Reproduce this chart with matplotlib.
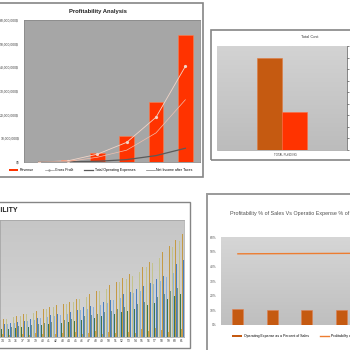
import numpy as np
import matplotlib
matplotlib.use('Agg')
import matplotlib.pyplot as plt
from matplotlib.patches import Rectangle, Patch
from matplotlib.lines import Line2D
from matplotlib.colors import LinearSegmentedColormap

plt.rcParams['font.family'] = ['Liberation Sans', 'DejaVu Sans']

# Profitability Analysis (top left)
years = ['1', '2', '3', '4', '5', '6']
revenue = [0, 0.8e6, 3.8e6, 10.9e6, 25.3e6, 53.8e6]
gross_profit = [0, 0.5e6, 3.3e6, 8.3e6, 18.9e6, 40.4e6]
total_opex = [0, 0.1e6, 0.3e6, 1.0e6, 2.7e6, 5.8e6]
net_income = [0, 0.2e6, 2.0e6, 5.0e6, 12.3e6, 26.3e6]

# Total Cost (top right)
cost_category = ['TOTAL FUNDING']
cost_a = [80000]
cost_b = [33000]

# Profitability per month (bottom left)
months = [str(m) for m in range(34, 62)]
s_khaki = [16.5, 18.0, 19.3, 20.7, 22.3, 23.9, 25.8, 27.6, 29.5, 30.7, 32.6, 34.7, 37.9, 39.7,
           42.1, 45.3, 48.1, 51.2, 54.6, 57.9, 61.1, 65.1, 69.8, 74.1, 79.1, 84.4, 89.9, 95.5]
s_lightblue = [11.7, 12.7, 13.7, 14.7, 15.8, 17.0, 18.3, 19.6, 20.9, 21.8, 23.1, 24.6, 26.9, 28.2,
               29.9, 32.1, 34.1, 36.3, 38.7, 41.1, 43.4, 46.2, 49.5, 52.6, 56.1, 59.9, 63.8, 67.8]
s_darkgreen = [7.4, 8.1, 8.7, 9.4, 10.1, 10.8, 11.6, 12.5, 13.3, 13.9, 14.7, 15.7, 17.1, 17.9,
               19.0, 20.5, 21.7, 23.1, 24.7, 26.2, 27.6, 29.4, 31.5, 33.5, 35.7, 38.1, 40.6, 43.1]
s_tan = [3, 2, 4, 3, 2, 4, 3, 5, 3, 4, 2, 5, 3, 4, 6, 3, 5, 4, 7, 5, 4, 8, 6, 9, 7, 5, 10, 8]
s_gold = [17.7, 19.3, 20.7, 22.3, 24.0, 25.7, 27.7, 29.7, 31.7, 33.0, 35.0, 37.3, 40.7, 42.7,
          45.3, 48.7, 51.7, 55.0, 58.7, 62.3, 65.7, 70.0, 75.0, 79.7, 85.0, 90.7, 96.7, 102.7]
s_blue = [12.7, 13.9, 14.9, 16.1, 17.3, 18.5, 19.9, 21.4, 22.8, 23.8, 25.2, 26.9, 29.3, 30.7,
          32.6, 35.1, 37.2, 39.6, 42.3, 44.9, 47.3, 50.4, 54.0, 57.4, 61.2, 65.3, 72.3, 76.7]
s_grey = [8.9, 9.7, 10.4, 11.2, 12.0, 12.9, 13.9, 14.9, 15.9, 16.5, 17.5, 18.7, 20.4, 21.4,
          22.7, 24.4, 25.9, 27.5, 29.4, 31.2, 32.9, 35.0, 37.5, 39.9, 42.5, 45.4, 48.4, 51.4]

# Profitability % vs Opex % (bottom right)
periods = ['1', '2', '3', '4', '5']
opex_pct = [10.9, 10.3, 10.3, 10.3, 10.3]
profit_pct = [48.7, 48.8, 48.9, 49.0, 49.1]

W = H = 350.0


def px(x0, y0, x1, y1):
    return [x0 / W, 1 - y1 / H, (x1 - x0) / W, (y1 - y0) / H]


def gradient(ax, top, bottom):
    cmap = LinearSegmentedColormap.from_list('g', [top, bottom])
    ax.imshow(np.linspace(0, 1, 100).reshape(-1, 1), cmap=cmap, extent=[0, 1, 0, 1],
              transform=ax.transAxes, aspect='auto', zorder=0)


def frame(fig, x0, y0, x1, y1, lw=1.0, color='#858585'):
    r = Rectangle((x0 / W, 1 - y1 / H), (x1 - x0) / W, (y1 - y0) / H, fill=False,
                  edgecolor=color, lw=lw, transform=fig.transFigure, clip_on=False)
    fig.add_artist(r)


fig = plt.figure(figsize=(3.5, 3.5), dpi=100)
fig.patch.set_facecolor('white')

frame(fig, -5, 3, 203, 177, lw=1.2)
frame(fig, 211, 30, 360, 160, lw=1.2)
frame(fig, -5, 201.5, 190, 347.5, lw=1.0)
frame(fig, 207, 194, 360, 360, lw=1.4, color='#9a9a9a')

# --- panel 1
ax1 = fig.add_axes(px(24, 20, 200, 162))
ax1.set_facecolor('#a6a6a6')
x = np.arange(len(years))
ax1.bar(x, revenue, width=0.5, color='#ff3300', edgecolor='#ff7f50', lw=0.4, zorder=2)
ax1.plot(x, gross_profit, color='#f2d5c8', lw=0.6, marker='o', ms=1.3, zorder=3)
ax1.plot(x, total_opex, color='#5a5a5a', lw=0.9, zorder=3)
ax1.plot(x, net_income, color='#f0c0b0', lw=0.5, zorder=3)
ax1.set_xlim(-0.5, 5.5)
ax1.set_ylim(0, 60e6)
ax1.set_yticks(np.arange(0, 60.1e6, 10e6))
ax1.set_yticklabels(['0$'] + ['{:,.0f}$'.format(v) for v in np.arange(10e6, 60.1e6, 10e6)])
ax1.tick_params(axis='y', length=0, pad=3.5, labelsize=2.4, labelcolor='#404040')
ax1.set_xticks([])
for s in ax1.spines.values():
    s.set_color('#8a8a8a')
    s.set_linewidth(0.6)
fig.text(98 / W, 1 - 11 / H, 'Profitability Analysis', ha='center', va='center',
         fontsize=4.2, fontweight='bold', color='#222222')
h1 = [Patch(facecolor='#ff3300', label='Revenue'),
      Line2D([], [], color='#9a9a9a', lw=0.5, marker='+', ms=1.5, label='Gross Profit'),
      Line2D([], [], color='#5a5a5a', lw=0.9, label='Total Operating Expenses'),
      Line2D([], [], color='#7a7a7a', lw=0.5, label='Net Income after Taxes')]
fig.legend(handles=h1, loc='center', bbox_to_anchor=(101 / W, 1 - 170 / H), ncol=4,
           fontsize=2.5, frameon=False, handlelength=2.6, columnspacing=3.0,
           handletextpad=0.5)

# --- panel 2 (its tick labels sit past the right edge in the screenshot)
ax2 = fig.add_axes(px(217, 46, 347, 150))
gradient(ax2, '#d3d3d3', '#bcbcbc')
ax2.bar([-0.098], cost_a, width=0.196, color='#c55a11', edgecolor='#e07a40', lw=0.4, zorder=2)
ax2.bar([0.098], cost_b, width=0.196, color='#ff3300', edgecolor='#ff6a40', lw=0.4, zorder=2)
ax2.set_xlim(-0.5, 0.5)
ax2.set_ylim(0, 90000)
ax2.yaxis.tick_right()
ax2.set_yticks(np.arange(0, 90001, 10000))
ax2.tick_params(axis='y', length=1.5, width=0.5, color='#555555', labelright=False,
                labelleft=False)
ax2.set_xticks([])
for k, s in ax2.spines.items():
    s.set_visible(k in ('right', 'bottom'))
    s.set_color('#9a9a9a')
    s.set_linewidth(0.5)
ax2.spines['right'].set_color('#555555')
fig.text(310 / W, 1 - 37 / H, 'Total Cost', ha='center', va='center', fontsize=2.9,
         color='#404040')
fig.text(285 / W, 1 - 155 / H, cost_category[0], ha='center', va='center', fontsize=2.1,
         color='#404040')

# --- panel 3
ax3 = fig.add_axes(px(0, 220, 184, 336.7))
gradient(ax3, '#c6c6c6', '#d6d6d6')
xm = np.arange(34, 62)
series = [(s_khaki, '#c4c38c'), (s_lightblue, '#8fb1d9'), (s_darkgreen, '#3f7650'),
          (s_tan, '#c9a152'), (s_gold, '#c49a45'), (s_blue, '#4a7ebf'), (s_grey, '#6f8f86')]
bw = 0.12
for i, (vals, col) in enumerate(series):
    ax3.bar(xm + (i - 3) * bw, vals, width=bw, color=col, lw=0, zorder=2)
ax3.set_xlim(33.6, 61.35)
ax3.set_ylim(0, 116.7)
ax3.set_xticks(xm)
ax3.set_xticklabels(months)
ax3.tick_params(axis='x', length=0, pad=1.5, labelsize=2.4, labelcolor='#404040')
ax3.set_yticks([])
for s in ax3.spines.values():
    s.set_color('#a0a0a0')
    s.set_linewidth(0.5)
fig.text(18.5 / W, 1 - 210 / H, 'PROFITABILITY', ha='right', va='center', fontsize=5.0,
         fontweight='bold', color='#222222')

# --- panel 4
ax4 = fig.add_axes(px(220.7, 237.3, 220.7 + 5 * 34.4, 325))
gradient(ax4, '#d6d6d6', '#bfbfbf')
xp = np.arange(len(periods))
ax4.bar(xp, opex_pct, width=0.32, color='#c55a11', edgecolor='#e08050', lw=0.4, zorder=2)
ax4.plot(xp, profit_pct, color='#ed7d31', lw=1.0, zorder=3)
ax4.set_xlim(-0.5, 4.5)
ax4.set_ylim(0, 60)
ax4.set_yticks(np.arange(0, 61, 10))
ax4.set_yticklabels(['{}%'.format(v) for v in range(0, 61, 10)])
ax4.tick_params(axis='y', length=0, pad=3, labelsize=2.4, labelcolor='#595959')
ax4.set_xticks([])
for s in ax4.spines.values():
    s.set_visible(False)
fig.text(230 / W, 1 - 214 / H, 'Profitability % of Sales Vs Operatio Expense % of Sales',
         ha='left', va='center', fontsize=3.9, color='#505050')
h4 = [Patch(facecolor='#c55a11', label='Operating Expense as a Percent of Sales'),
      Line2D([], [], color='#ed7d31', lw=1.0, label='Profitability as a Percent of Sales')]
fig.legend(handles=h4, loc='center left', bbox_to_anchor=(229 / W, 1 - 336 / H), ncol=2,
           fontsize=2.5, frameon=False, handlelength=2.8, columnspacing=3.2,
           handletextpad=0.5)

fig.savefig('out.png', dpi=100)
